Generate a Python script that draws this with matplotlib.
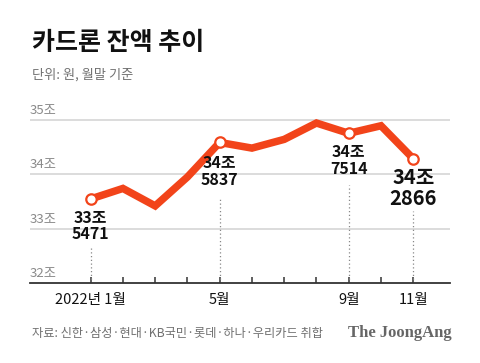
import matplotlib
matplotlib.use("Agg")
import matplotlib.pyplot as plt
from matplotlib import transforms

plt.rcParams['font.family'] = ['Noto Sans CJK KR', 'DejaVu Sans']

months = list(range(11))
values = [33.5471, 33.74, 33.42, 33.95, 34.5837, 34.48, 34.64, 34.94, 34.7514, 34.89, 34.2866]
tick_labels = ['2022년 1월', '', '', '', '5월', '', '', '', '9월', '', '11월']
yticks = [32, 33, 34, 35]
ytick_labels = ['32조', '33조', '34조', '35조']
marked = [0, 4, 8, 10]
ann_labels = {0: '33조\n5471', 4: '34조\n5837', 8: '34조\n7514', 10: '34조\n2866'}

W, H = 480, 363
fig = plt.figure(figsize=(W / 100, H / 100), dpi=100)
fig.patch.set_facecolor('white')

def fx(px):
    return px / W

def fy(py):
    return 1 - py / H

ymin, ymax = 32, 35.3
ax = fig.add_axes([fx(30), fy(283.3), fx(450) - fx(30), (283.3 - 103.4) / H])
ax.set_xlim(-1.88, 11.14)
ax.set_ylim(ymin, ymax)
for s in ['top', 'right', 'left']:
    ax.spines[s].set_visible(False)
ax.spines['bottom'].set_color('#333333')
ax.spines['bottom'].set_linewidth(1.3)
ax.set_yticks([])

# gridlines
for v in yticks[1:]:
    ax.axhline(v, color='#dcdcdc', lw=1.4, zorder=1)

# y labels above gridlines
blend = transforms.blended_transform_factory(ax.transAxes, ax.transData)
for v, lab in zip(yticks, ytick_labels):
    ax.annotate(lab, (0, v), xycoords=blend, xytext=(0, 3), textcoords='offset pixels',
                ha='left', va='bottom', fontsize=9.5, color='#8a8a8a')

ax.set_xticks(months)
ax.set_xticklabels(tick_labels, fontsize=10.5, color='#111111', fontweight='medium')
ax.tick_params(axis='x', direction='in', length=4, width=1.1, color='#333333', pad=7)

px_per_unit = (283.3 - 103.4) / (ymax - ymin)

color = '#F2441A'
ax.plot(months, values, color=color, lw=5.4, solid_joinstyle='miter', zorder=3)
ax.plot([months[i] for i in marked], [values[i] for i in marked], 'o', ms=7.5,
        mfc='white', mec=color, mew=1.6, zorder=4)

offsets = {0: 27, 4: 29, 8: 27, 10: 29.5}
gaps = {0: 48, 4: 55, 8: 52, 10: 52}
for i in marked:
    big = (i == 10)
    ax.annotate(ann_labels[i], (months[i], values[i]), xytext=(0, -offsets[i]),
                textcoords='offset pixels', ha='center', va='center',
                fontsize=14.5 if big else 11.5, fontweight='bold', color='#111111',
                linespacing=1.0 if big else 1.05, zorder=5)
    top = values[i] - gaps[i] / px_per_unit
    ax.plot([months[i], months[i]], [ymin, top], ls=(0, (1, 2)), color='#888888', lw=0.9, zorder=2)

fig.text(fx(32), fy(43), '카드론 잔액 추이', fontsize=18, fontweight='black', color='#111111',
         ha='left', va='center')
fig.text(fx(32), fy(75), '단위: 원, 월말 기준', fontsize=9.5, color='#707070', ha='left', va='center')
fig.text(fx(32), fy(333), '자료: 신한·삼성·현대·KB국민·롯데·하나·우리카드 취합', fontsize=8.8,
         color='#707070', ha='left', va='center')
fig.text(fx(452), fy(333), 'The JoongAng', fontsize=12, fontweight='bold', color='#666666',
         family='Liberation Serif', ha='right', va='center')

fig.savefig('out.png', dpi=100, facecolor='white')
